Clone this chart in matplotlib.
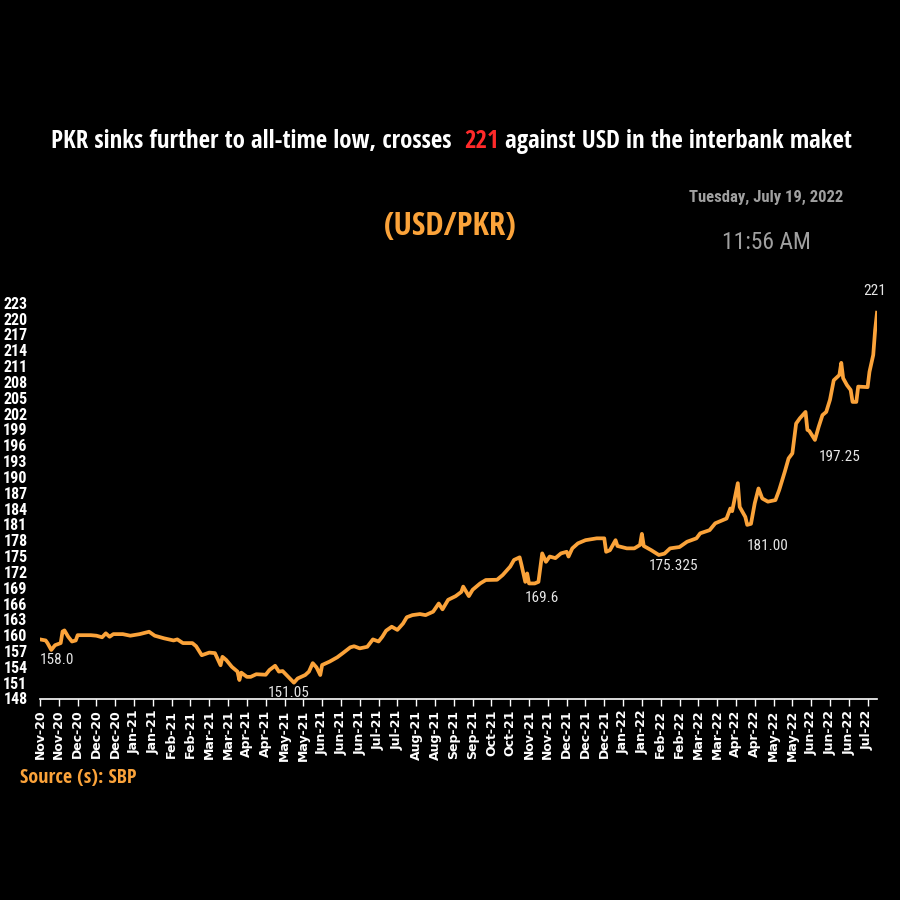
import matplotlib
matplotlib.use("Agg")
import matplotlib.pyplot as plt

# trading-day number (every 10th day is a tick) and USD/PKR interbank rate
day = [0, 3, 4, 6, 8, 11, 12, 13, 15, 17, 19, 20, 27, 30, 33, 35, 37, 39, 44, 48,
       53, 58, 61, 66, 71, 73, 76, 81, 83, 86, 90, 93, 96, 97, 99, 102, 105, 106, 107, 110,
       112, 115, 120, 122, 125, 127, 129, 132, 135, 137, 141, 143, 145, 147, 149, 150, 154, 158, 161, 165,
       167, 170, 174, 177, 180, 182, 184, 187, 190, 193, 195, 198, 202, 205, 209, 212, 214, 217, 221, 224,
       225, 228, 230, 234, 237, 243, 246, 250, 252, 255, 256, 257, 258, 259, 260, 263, 265, 267, 269, 271,
       274, 277, 280, 281, 283, 286, 290, 296, 300, 301, 303, 306, 307, 312, 316, 319, 320, 321, 325, 329,
       332, 335, 340, 344, 349, 351, 356, 359, 365, 367, 368, 371, 372, 375, 376, 378, 380, 382, 384, 387,
       391, 393, 396, 398, 400, 402, 404, 407, 408, 409, 412, 414, 416, 418, 420, 422, 425, 426, 427, 429,
       431, 432, 434, 435, 440, 441, 443, 444, 445]
rate = [159.2, 159.0, 158.5, 157.2, 158.1, 158.5, 160.7, 160.9, 159.7, 158.8, 159.0, 160.0, 160.0, 159.9, 159.6, 160.35, 159.7, 160.2, 160.2, 159.9,
        160.2, 160.65, 159.9, 159.4, 159.0, 159.2, 158.5, 158.5, 157.9, 156.2, 156.7, 156.6, 154.3, 155.9, 155.3, 154.0, 153.1, 151.5, 152.9, 152.1,
        152.1, 152.6, 152.5, 153.4, 154.2, 153.1, 153.2, 152.1, 151.0, 151.8, 152.45, 153.1, 154.7, 153.9, 152.45, 154.35, 155.0, 155.8, 156.6, 157.7,
        157.9, 157.5, 157.8, 159.2, 158.8, 159.7, 160.85, 161.6, 161.0, 162.2, 163.4, 163.8, 164.0, 163.8, 164.45, 166.0, 164.9, 166.7, 167.4, 168.2,
        169.2, 167.4, 168.6, 169.8, 170.45, 170.5, 171.4, 173.0, 174.25, 174.75, 173.3, 171.7, 170.1, 171.7, 169.8, 169.8, 170.1, 175.5, 173.9, 174.9,
        174.6, 175.5, 175.8, 174.9, 176.45, 177.4, 178.0, 178.35, 178.35, 175.8, 176.1, 178.0, 176.9, 176.45, 176.45, 177.1, 179.2, 176.9, 176.1, 175.2,
        175.45, 176.45, 176.7, 177.7, 178.35, 179.3, 179.9, 181.2, 182.1, 184.0, 183.5, 188.8, 184.3, 182.4, 180.9, 181.1, 185.0, 187.8, 185.9, 185.3,
        185.6, 187.5, 191.0, 193.5, 194.45, 200.1, 201.1, 202.3, 198.9, 198.7, 197.0, 199.5, 201.7, 202.3, 204.6, 208.3, 209.3, 211.6, 208.7, 207.4,
        206.45, 204.2, 204.2, 207.1, 207.0, 209.9, 213.1, 217.8, 221.1]

tick_labels = ["Nov-20", "Nov-20", "Dec-20", "Dec-20", "Dec-20", "Jan-21", "Jan-21", "Feb-21", "Feb-21",
               "Mar-21", "Mar-21", "Apr-21", "Apr-21", "May-21", "May-21", "Jun-21", "Jun-21", "Jun-21",
               "Jul-21", "Jul-21", "Aug-21", "Aug-21", "Sep-21", "Sep-21", "Oct-21", "Oct-21", "Nov-21",
               "Nov-21", "Dec-21", "Dec-21", "Dec-21", "Jan-22", "Jan-22", "Feb-22", "Feb-22", "Mar-22",
               "Mar-22", "Apr-22", "Apr-22", "May-22", "May-22", "Jun-22", "Jun-22", "Jun-22", "Jul-22"]
tick_days = [10 * i for i in range(len(tick_labels))]
y_ticks = list(range(148, 224, 3))

# point labels: (day, rate, text)
notes = [(9, 155.3, "158.0"), (132, 149.0, "151.05"), (267, 167.0, "169.6"),
         (337, 173.2, "175.325"), (387, 176.9, "181.00"), (425, 193.8, "197.25"),
         (444, 225.2, "221")]

ORANGE = "#FBA33A"
bold_font = ["Open Sans Condensed", "Carlito", "DejaVu Sans"]
reg_font = ["Roboto Condensed", "Carlito", "DejaVu Sans"]

fig = plt.figure(figsize=(9, 9), dpi=100, facecolor="black")
ax = fig.add_axes([40 / 900, 1 - 698.5 / 900, 837 / 900, 395.8 / 900])
ax.set_facecolor("black")

ax.plot(day, rate, color=ORANGE, lw=2.7, solid_joinstyle="round")

ax.set_xlim(0, 445)
ax.set_ylim(148, 223)
ax.set_xticks(tick_days)
ax.set_xticklabels(tick_labels, rotation=90, color="white", fontsize=9,
                   fontweight="bold", family="DejaVu Sans")
ax.set_yticks(y_ticks)
ax.set_yticklabels([str(v) for v in y_ticks], color="white", fontsize=11.5,
                   family=reg_font, fontweight="bold")
ax.tick_params(axis="y", length=0, pad=9)
ax.tick_params(axis="x", colors="white", length=5, width=1, pad=3)
for side in ["top", "right", "left"]:
    ax.spines[side].set_visible(False)
ax.spines["bottom"].set_color("white")
ax.spines["bottom"].set_linewidth(1.2)

for d, r, t in notes:
    ax.text(d, r, t, color="#E6E6E6", fontsize=11, family=reg_font, ha="center",
            va="center", clip_on=False)

# title with the red number, fitted to the reference width
parts = [("PKR sinks further to all-time low, crosses  ", "white"), ("221", "#FF2A2A"),
         (" against USD in the interbank maket", "white")]
fig.canvas.draw()
rend = fig.canvas.get_renderer()
texts = []
for s, c in parts:
    texts.append(fig.text(0, 1 - 141 / 900, s, color=c, fontsize=15, fontweight="bold",
                          family=bold_font, va="center", ha="left"))
total = sum(t.get_window_extent(rend).width for t in texts)
for t in texts:
    t.set_fontsize(15 * 803 / total)
widths = [t.get_window_extent(rend).width for t in texts]
x0 = (903 - sum(widths)) / 2
for t, w in zip(texts, widths):
    t.set_x(x0 / 900)
    x0 += w

fig.text(450 / 900, 1 - 227 / 900, "(USD/PKR)", color=ORANGE, fontsize=23.5,
         fontweight="bold", family=bold_font, ha="center", va="center")
fig.text(766 / 900, 1 - 197 / 900, "Tuesday, July 19, 2022", color="#A0A0A0",
         fontsize=12, fontweight="bold", family=reg_font, ha="center", va="center")
fig.text(766 / 900, 1 - 242 / 900, "11:56 AM", color="#A0A0A0", fontsize=17,
         family=reg_font, ha="center", va="center")
fig.text(20 / 900, 1 - 778 / 900, "Source (s): SBP", color=ORANGE, fontsize=14.5,
         fontweight="bold", family=bold_font, ha="left", va="center")

fig.savefig("out.png", dpi=100, facecolor="black")
